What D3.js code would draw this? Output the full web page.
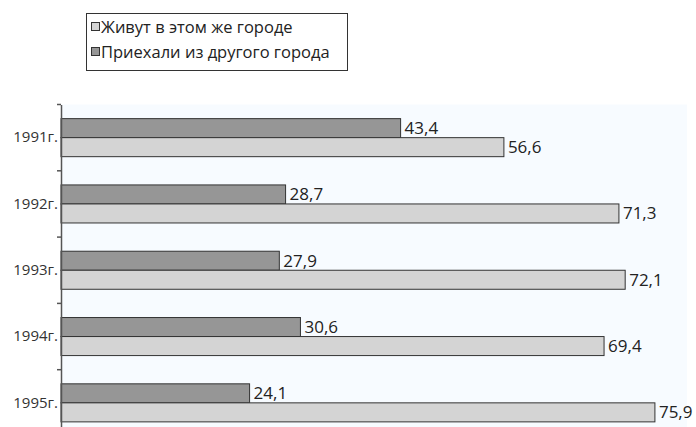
<!DOCTYPE html>
<html><head><meta charset="utf-8">
<script src="https://cdn.jsdelivr.net/npm/d3@7"></script>
<style>
html,body{margin:0;padding:0;background:#fff;}
svg{display:block;font-family:"Open Sans",sans-serif;}
</style></head>
<body>
<svg id="chart" width="696" height="427"></svg>
<script>
const categories = ["1991г.", "1992г.", "1993г.", "1994г.", "1995г."];
const seriesNames = ["Живут в этом же городе", "Приехали из другого города"];
const zhivut = [56.6, 71.3, 72.1, 69.4, 75.9];
const priehali = [43.4, 28.7, 27.9, 30.6, 24.1];
const seriesKeys = ["priehali", "zhivut"];

const colors = {zhivut: "#d4d4d4", priehali: "#969696"};
const svg = d3.select("#chart");

const mLeft = 61, mRight = 687, mTop = 104.5, mBottom = 436;
const x = d3.scaleLinear().domain([0, 80]).range([mLeft, mRight]);
const y0 = d3.scaleBand().domain(categories).range([mTop, mBottom]);
const y1 = d3.scaleBand().domain(seriesKeys).range([0, y0.bandwidth()]).paddingOuter(0.743).paddingInner(0);

// plot background
svg.append("rect").attr("x", mLeft).attr("y", mTop).attr("width", mRight - mLeft).attr("height", mBottom - mTop)
  .attr("fill", "#f7fbff");

const data = categories.map((c, i) => ({cat: c, zhivut: zhivut[i], priehali: priehali[i]}));

const g = svg.append("g");
data.forEach(d => {
  seriesKeys.forEach(k => {
    const yy = y0(d.cat) + y1(k);
    g.append("rect")
      .attr("x", x(0)).attr("y", yy)
      .attr("width", x(d[k]) - x(0)).attr("height", y1.bandwidth())
      .attr("fill", colors[k]).attr("stroke", "#333").attr("stroke-width", 1);
    g.append("text")
      .attr("x", x(d[k]) + 4).attr("y", yy + y1.bandwidth() / 2)
      .attr("dy", "0.35em").attr("font-size", 17).attr("fill", "#222")
      .text(d3.format(".1f")(d[k]).replace(".", ","));
  });
});

// axis
const axis = d3.axisLeft(y0).tickSize(0).tickPadding(3);
const ax = svg.append("g").attr("transform", `translate(${mLeft},0)`).call(axis);
ax.select(".domain").attr("stroke", "#555").attr("stroke-width", 1.5);
ax.selectAll("text").attr("font-size", 15).attr("fill", "#333").attr("font-family", "Open Sans, sans-serif");
// boundary ticks
const bounds = categories.map(c => y0(c)).concat([y0(categories[categories.length - 1]) + y0.bandwidth()]);
svg.append("g").selectAll("line").data(bounds).join("line")
  .attr("x1", mLeft - 4).attr("x2", mLeft).attr("y1", d => d).attr("y2", d => d)
  .attr("stroke", "#555").attr("stroke-width", 1.5);

// legend
const lg = svg.append("g");
lg.append("rect").attr("x", 86.5).attr("y", 13.5).attr("width", 261).attr("height", 57)
  .attr("fill", "#fff").attr("stroke", "#333").attr("stroke-width", 1);
const legendKeys = ["zhivut", "priehali"];
legendKeys.forEach((k, i) => {
  const cy = 27 + i * 25;
  lg.append("rect").attr("x", 91.5).attr("y", cy - 4.5).attr("width", 8).attr("height", 8)
    .attr("fill", colors[k]).attr("stroke", "#333").attr("stroke-width", 1);
  lg.append("text").attr("x", 101).attr("y", cy).attr("dy", "0.35em")
    .attr("font-size", 16.5).attr("fill", "#222").text(seriesNames[i]);
});
</script>
</body></html>
